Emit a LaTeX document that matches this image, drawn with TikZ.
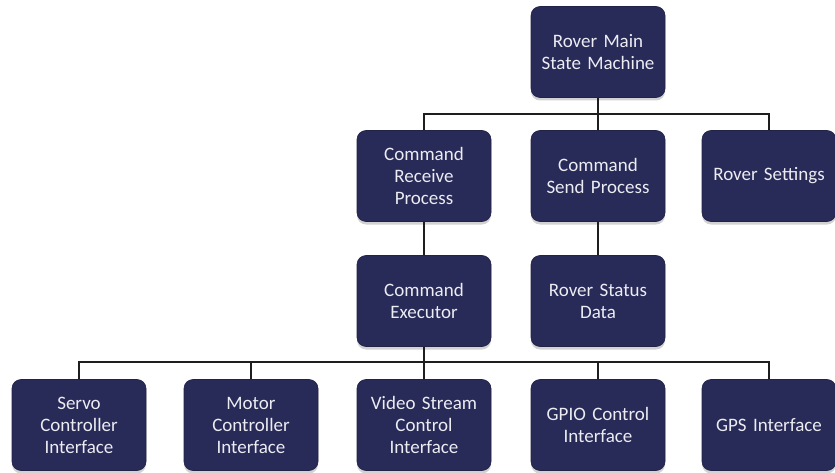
\documentclass[tikz,border=0pt]{standalone}
\usepackage{fontspec}
\setmainfont{Carlito}
\usetikzlibrary{shadows}
\definecolor{navy}{RGB}{40,42,88}
\definecolor{txt}{RGB}{236,236,242}
\definecolor{wire}{RGB}{30,30,30}
\begin{document}
\begin{tikzpicture}[x=1pt,y=-1pt,
  box/.style={draw=navy!80!black,line width=0.6pt,fill=navy,rounded corners=9pt,
    minimum width=134pt,minimum height=91pt,inner sep=2pt,
    text=txt,align=center,text width=128pt,
    font=\fontsize{19}{22}\selectfont,
    drop shadow={shadow xshift=0pt,shadow yshift=-3pt,opacity=0.35,fill=gray}},
  wirestyle/.style={draw=wire,line width=2pt}]
\useasboundingbox (0,0) rectangle (835,473);
\fill[white] (0,0) rectangle (835,473);
% row 1
\node[box] (main) at (598,52) {Rover Main\\State Machine};
% row 2
\node[box] (recv) at (424,176) {Command\\Receive\\Process};
\node[box] (send) at (598,176) {Command\\Send Process};
\node[box] (set)  at (769,176) {Rover Settings};
% row 3
\node[box] (exec)   at (424,301) {Command\\Executor};
\node[box] (status) at (598,301) {Rover Status\\Data};
% row 4
\node[box] (servo) at (79,425)  {Servo\\Controller\\Interface};
\node[box] (motor) at (251,425) {Motor\\Controller\\Interface};
\node[box] (video) at (424,425) {Video Stream\\Control\\Interface};
\node[box] (gpio)  at (598,425) {GPIO Control\\Interface};
\node[box] (gps)   at (769,425) {GPS Interface};
% connectors
\coordinate (bar1) at (recv.north |- 0,114);
\coordinate (bar2) at (servo.north |- 0,362);
\draw[wirestyle] (main.south) -- (send.north);
\draw[wirestyle] (recv.north) -- (bar1) -| (set.north);
\draw[wirestyle] (recv.south) -- (exec.north);
\draw[wirestyle] (send.south) -- (status.north);
\draw[wirestyle] (exec.south) -- (video.north);
\draw[wirestyle] (servo.north) -- (bar2) -| (gps.north);
\draw[wirestyle] (motor.north) -- (motor.north |- bar2);
\draw[wirestyle] (gpio.north) -- (gpio.north |- bar2);
\end{tikzpicture}
\end{document}
